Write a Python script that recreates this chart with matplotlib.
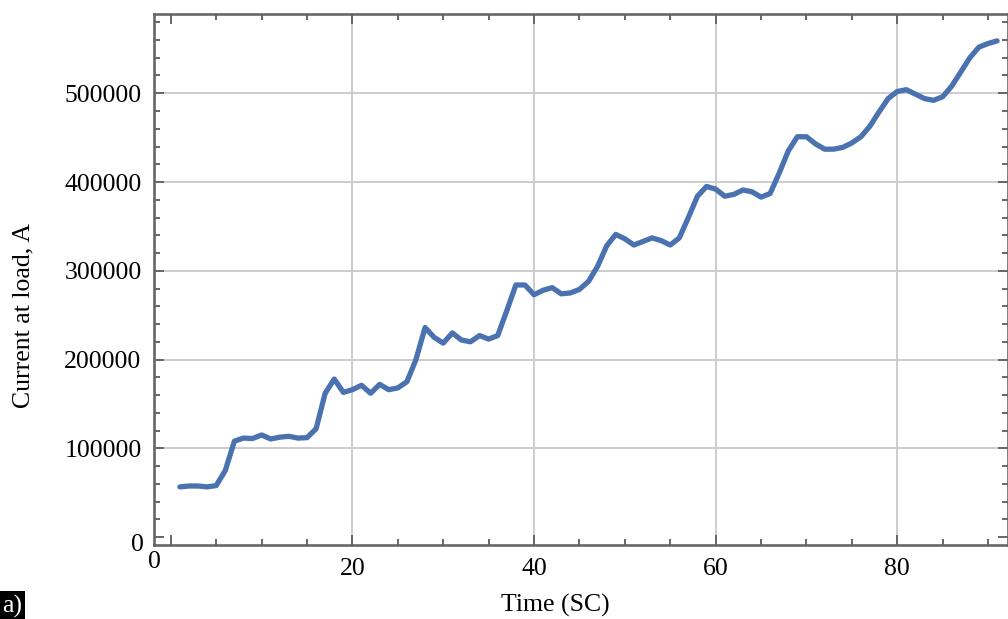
import numpy as np
import matplotlib.pyplot as plt
from matplotlib.ticker import MultipleLocator

plt.rcParams['font.family'] = ['Liberation Serif', 'DejaVu Serif']

# time steps (SC) and load current
time_sc = list(range(1, 92))
current = [
    56500, 57500, 57500, 56500, 58000, 75000, 108000, 111500, 111000, 115000,
    110500, 112500, 113500, 111500, 112000, 122000, 162000, 178000, 163000, 166000,
    171000, 162000, 172000, 166000, 168000, 175000, 200000, 236000, 225000, 218500,
    230000, 222000, 220000, 227000, 223000, 227000, 255000, 284000, 284000, 273000,
    278000, 281000, 274000, 275000, 279000, 288000, 305000, 328000, 341000, 336000,
    329000, 333000, 337000, 334000, 329000, 337000, 360000, 384000, 395000, 392000,
    384000, 386000, 391000, 389000, 383000, 387000, 410000, 435000, 451000, 451000,
    443000, 437000, 437000, 439000, 444000, 451000, 463000, 479000, 494000, 502000,
    504000, 499000, 494000, 492000, 496000, 508000, 524000, 540000, 552000, 556000,
    559000,
]

x_major = [0, 20, 40, 60, 80]
y_major = [0, 100000, 200000, 300000, 400000, 500000]

fig = plt.figure(figsize=(10.08, 6.19), dpi=100)
ax = fig.add_axes([0.1528, 0.1195, 0.8472, 0.8579])

# grid (no line at zero)
for xv in x_major[1:]:
    ax.axvline(xv, color='#cccccc', lw=1.4, zorder=0)
for yv in y_major[1:]:
    ax.axhline(yv, color='#cccccc', lw=1.4, zorder=0)

ax.plot(time_sc, current, color='#4a71b0', lw=3.8, solid_joinstyle='round',
        solid_capstyle='round', zorder=3)

ax.set_xlim(-1.85, 92.2)
ax.set_ylim(-9000, 589300)

ax.set_xticks(x_major)
ax.set_xticklabels([''] + [str(v) for v in x_major[1:]])
ax.set_yticks(y_major)
ax.set_yticklabels([''] + [str(v) for v in y_major[1:]])
ax.xaxis.set_minor_locator(MultipleLocator(5))
ax.yaxis.set_minor_locator(MultipleLocator(20000))

ax.tick_params(which='both', direction='in', top=True, right=True,
               color='#666666', width=1.4, labelsize=18.5, labelcolor='black')
ax.tick_params(which='major', length=7)
ax.tick_params(which='minor', length=4.5)
ax.tick_params(axis='x', which='major', pad=9)
ax.tick_params(axis='y', which='major', pad=9)

for sp in ax.spines.values():
    sp.set_color('#666666')
    sp.set_linewidth(1.9)

# zero labels sit at the frame corner
ax.text(-1.85, -0.012, '0', transform=ax.get_xaxis_transform(),
        ha='center', va='top', fontsize=18.5)
ax.text(-0.012, -9000, '0', transform=ax.get_yaxis_transform(),
        ha='right', va='center', fontsize=18.5)

fig.text(555 / 1008, 1 - 605 / 619, 'Time (SC)', ha='center', va='center',
         fontsize=18.5)
fig.text(23 / 1008, 1 - 315 / 619, 'Current at load, A', ha='center',
         va='center', rotation=90, fontsize=18.5)

fig.text(0.002, 1 - 606 / 619, 'a)', ha='left', va='center', fontsize=18.5,
         color='white',
         bbox=dict(facecolor='black', edgecolor='none', boxstyle='square,pad=0.12'))

fig.savefig('out.png', dpi=100)
